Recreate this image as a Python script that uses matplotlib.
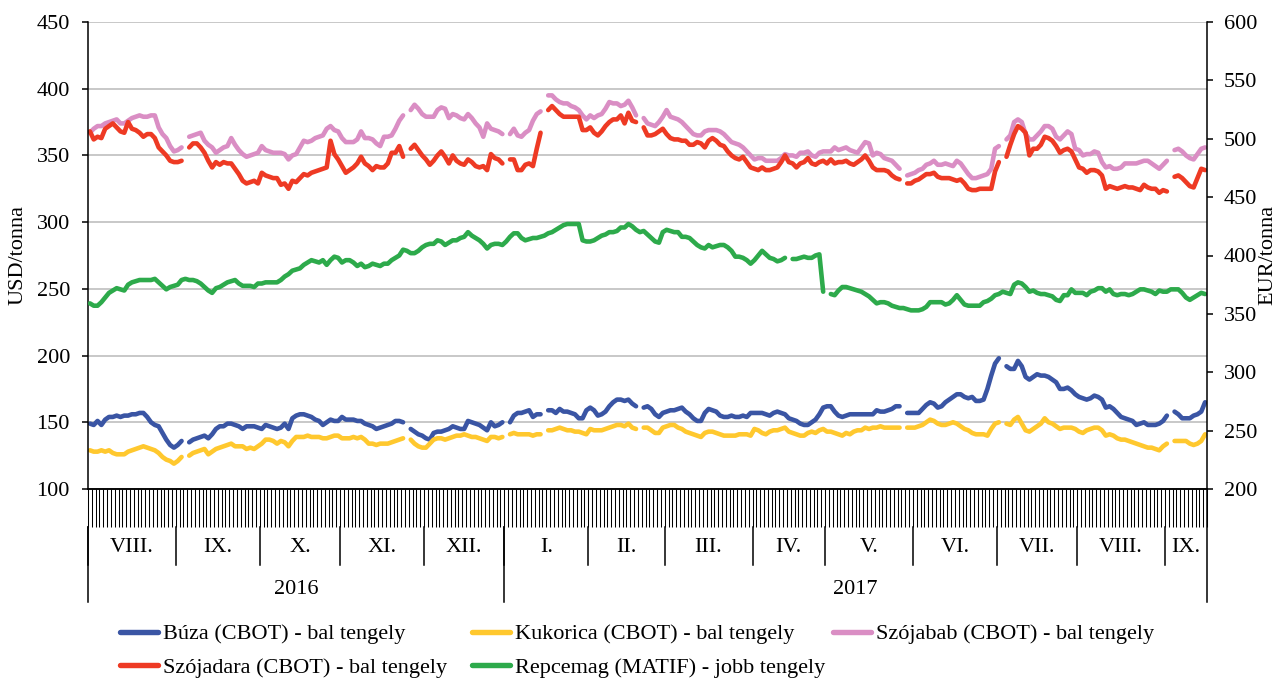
import numpy as np
import pandas as pd
import matplotlib
matplotlib.use("Agg")
import matplotlib.pyplot as plt
from matplotlib.lines import Line2D

plt.rcParams['font.family'] = ['Liberation Serif', 'DejaVu Serif']
plt.rcParams['font.size'] = 16

# ---------------- data ----------------
# trading days on the category axis (days when every market was closed are left out)
trading_days = pd.bdate_range("2016-08-01", "2017-09-15").drop(
    pd.to_datetime(["2016-12-26", "2017-04-14"]))

month_names = ["I.", "II.", "III.", "IV.", "V.", "VI.", "VII.", "VIII.",
               "IX.", "X.", "XI.", "XII."]

# USD/tonna (left axis); None = no quotation
buza = [
    149, 148, 151, 148, 152, 154, 154, 155, 154, 155, 155, 156, 156, 157, 157, 154, 150, 148, 147, 142, 137, 133, 131,
    133, 136, None, 135, 137, 138, 139, 140, 138, 141, 145, 147, 147, 149, 149, 148, 147, 145, 147, 147, 147, 146,
    145, 148, 147, 146, 145, 146, 149, 145, 153, 155, 156, 156, 155, 154, 152, 151, 148, 150, 152, 151, 151,
    154, 152, 152, 152, 151, 151, 149, 148, 147, 145, 146, 147, 148, 149, 151, 151, 150, None, 145, 143, 141, 140,
    138, 137, 142, 143, 143, 144, 145, 147, 146, 145, 145, 151, 150, 149, 148, 146, 144, 150, 147, 148, 150,
    None, 150, 155, 157, 157, 158, 159, 154, 156, 156, None, 159, 159, 157, 160, 158, 158, 157, 156, 153, 153, 159,
    161, 159, 155, 156, 158, 162, 165, 167, 167, 166, 167, 164, 162, None, 161, 162, 160, 156, 154, 157,
    158, 159, 159, 160, 161, 158, 156, 153, 151, 151, 157, 160, 159, 158, 155, 154, 154, 155, 154, 154, 155, 154, 157,
    157, 157, 157, 156, 155, 157, 158, 157, 156, 153, 152, 151, 149, 148, 148, 150, 152, 156, 161,
    162, 162, 158, 155, 154, 155, 156, 156, 156, 156, 156, 156, 156, 159, 158, 158, 159, 160, 162, 162, None, 157, 157,
    157, 157, 160, 163, 165, 164, 161, 162, 165, 167, 169, 171, 171, 169, 168, 169, 166, 166, 167, 175, 185, 194,
    198, None, 192, 190, 190, 196, 192, 184, 182, 184, 186, 185, 185, 184, 182, 180, 175, 175, 176, 174, 171,
    169, 168, 167, 168, 170, 169, 167, 161, 162, 160, 157, 154, 153, 152, 151, 148, 149, 150, 148, 148, 148, 149, 151,
    155, None, 158, 156, 153, 153, 153, 155, 156, 158, 165,
]

kukorica = [
    129, 128, 128, 129, 128, 129, 127, 126, 126, 126, 128, 129, 130, 131, 132, 131, 130, 129, 127, 124, 122, 121, 119,
    121, 124, None, 125, 127, 128, 129, 130, 126, 128, 130, 131, 132, 133, 134, 132, 132, 132, 130, 131, 130, 132,
    134, 137, 137, 136, 134, 136, 135, 132, 136, 139, 139, 139, 140, 139, 139, 139, 138, 138, 139, 140, 140,
    138, 138, 138, 139, 138, 139, 137, 134, 134, 133, 134, 134, 134, 135, 136, 137, 138, None, 137, 134, 132, 131,
    131, 134, 137, 138, 138, 137, 138, 139, 140, 140, 141, 140, 139, 139, 138, 137, 136, 139, 139, 138, 139,
    None, 141, 142, 141, 141, 141, 141, 140, 141, 141, None, 144, 144, 145, 146, 145, 144, 144, 143, 143, 142, 141,
    145, 144, 144, 144, 145, 146, 147, 148, 148, 147, 149, 146, 145, None, 146, 146, 144, 142, 142, 146,
    147, 148, 148, 146, 145, 143, 142, 141, 140, 139, 142, 143, 143, 142, 141, 140, 140, 140, 140, 141, 141, 141, 140,
    145, 144, 142, 141, 143, 144, 144, 145, 146, 143, 142, 141, 140, 140, 142, 143, 142, 144, 145,
    143, 143, 142, 141, 140, 142, 141, 143, 144, 144, 146, 145, 146, 146, 147, 146, 146, 146, 146, 146, None, 146, 146,
    146, 147, 148, 150, 152, 151, 149, 148, 148, 149, 150, 149, 147, 145, 144, 142, 141, 141, 141, 140, 145, 149,
    150, None, 149, 148, 152, 154, 149, 144, 143, 145, 147, 149, 153, 150, 149, 147, 145, 146, 146, 146, 145,
    143, 142, 144, 145, 146, 146, 144, 140, 141, 140, 138, 137, 137, 136, 135, 134, 133, 132, 131, 131, 130, 129, 132,
    134, None, 136, 136, 136, 136, 134, 133, 134, 136, 141,
]

szojabab = [
    367, 370, 372, 372, 374, 375, 376, 377, 374, 374, 376, 378, 379, 380, 379, 379, 380, 380, 371, 366, 363, 357, 353,
    354, 356, None, 364, 365, 366, 367, 361, 358, 356, 352, 354, 356, 357, 363, 358, 354, 351, 349, 350, 351, 352,
    357, 354, 353, 352, 352, 352, 351, 347, 350, 351, 356, 361, 360, 361, 363, 364, 365, 370, 372, 369, 368,
    363, 360, 360, 360, 362, 368, 363, 363, 362, 359, 357, 364, 364, 365, 370, 376, 380, None, 384, 388, 385, 381,
    379, 379, 379, 384, 386, 385, 378, 381, 380, 378, 377, 381, 378, 374, 371, 364, 374, 370, 369, 368, 366,
    None, 366, 370, 365, 364, 367, 369, 376, 381, 383, None, 395, 395, 392, 390, 389, 389, 387, 386, 384, 380, 377,
    380, 378, 380, 381, 385, 390, 389, 389, 387, 388, 391, 386, 380, None, 378, 374, 373, 372, 375, 379,
    384, 379, 378, 377, 375, 372, 369, 366, 365, 365, 368, 369, 369, 369, 368, 366, 363, 360, 359, 358, 356, 353, 350,
    347, 348, 348, 346, 346, 346, 346, 348, 351, 350, 350, 349, 352, 352, 353, 350, 349, 352, 353,
    353, 353, 356, 354, 355, 356, 354, 353, 352, 356, 360, 359, 350, 352, 351, 348, 347, 346, 343, 340, None, 335, 336,
    337, 339, 340, 343, 344, 346, 343, 343, 344, 343, 342, 346, 344, 340, 336, 333, 333, 334, 335, 336, 340, 355,
    357, None, 362, 365, 375, 377, 375, 366, 362, 362, 365, 368, 372, 372, 370, 364, 362, 365, 368, 366, 355,
    354, 350, 351, 351, 353, 352, 345, 341, 342, 340, 340, 341, 344, 344, 344, 344, 345, 346, 346, 344, 342, 340, 343,
    346, None, 354, 355, 353, 350, 348, 347, 351, 355, 356,
]

szojadara = [
    368, 362, 364, 363, 370, 372, 374, 371, 368, 367, 375, 370, 369, 367, 364, 366, 366, 363, 356, 353, 350, 346, 345,
    345, 346, None, 356, 359, 359, 356, 352, 346, 341, 345, 343, 345, 344, 344, 340, 336, 331, 329, 330, 331, 329,
    337, 335, 334, 333, 333, 328, 329, 325, 331, 330, 333, 336, 335, 337, 338, 339, 340, 341, 361, 351, 347,
    342, 337, 339, 341, 344, 349, 344, 342, 339, 342, 341, 341, 344, 352, 352, 357, 349, None, 355, 358, 354, 350,
    347, 343, 346, 350, 353, 349, 344, 350, 346, 344, 343, 347, 345, 342, 341, 342, 339, 351, 348, 347, 344,
    None, 347, 347, 339, 339, 343, 344, 342, 355, 367, None, 384, 387, 384, 381, 379, 379, 379, 379, 379, 369, 369,
    371, 367, 365, 368, 372, 375, 377, 377, 380, 374, 382, 376, 375, None, 371, 365, 365, 366, 368, 370,
    366, 363, 362, 362, 361, 361, 358, 358, 360, 359, 356, 361, 363, 361, 358, 357, 353, 350, 348, 347, 349, 345, 341,
    340, 339, 341, 339, 339, 340, 341, 345, 350, 345, 344, 341, 344, 345, 348, 344, 343, 345, 346,
    344, 347, 344, 345, 345, 346, 344, 343, 345, 347, 350, 346, 341, 339, 339, 339, 338, 335, 333, 332, None, 329, 329,
    331, 332, 334, 336, 336, 337, 334, 333, 333, 333, 332, 331, 332, 329, 325, 324, 324, 325, 325, 325, 325, 338,
    345, None, 349, 358, 366, 372, 370, 367, 350, 355, 355, 358, 364, 363, 361, 357, 352, 354, 355, 353, 347,
    341, 340, 337, 339, 339, 338, 335, 325, 327, 326, 325, 326, 327, 326, 326, 325, 324, 328, 326, 325, 325, 322, 324,
    323, None, 334, 335, 333, 330, 327, 326, 333, 340, 339,
]

# EUR/tonna (right axis)
repcemag = [
    359, 357, 357, 360, 364, 368, 370, 372, 371, 370, 375, 377, 378, 379, 379, 379, 379, 380, 377, 374, 371, 373, 374,
    375, 379, 380, 379, 379, 378, 376, 373, 370, 368, 372, 373, 375, 377, 378, 379, 376, 374, 374, 374, 373, 376,
    376, 377, 377, 377, 377, 379, 382, 384, 387, 388, 389, 392, 394, 396, 395, 394, 396, 392, 396, 399, 398,
    394, 396, 396, 394, 391, 393, 390, 391, 393, 392, 391, 393, 393, 396, 398, 400, 405, 404, 402, 402, 404, 407,
    409, 410, 410, 413, 412, 409, 411, 413, 413, 415, 416, 420, 417, 415, 413, 410, 406, 409, 410, 410, 409,
    412, 416, 419, 419, 415, 413, 414, 415, 415, 416, 417, 419, 420, 422, 424, 426, 427, 427, 427, 427, 413, 412,
    412, 413, 415, 417, 418, 420, 420, 421, 424, 424, 427, 425, 422, 420, 421, 418, 415, 412, 411, 420,
    422, 421, 420, 420, 416, 416, 415, 412, 409, 407, 406, 409, 407, 408, 409, 409, 407, 404, 399, 399, 398, 396, 393,
    396, 400, 404, 401, 398, 397, 395, 396, 398, None, 397, 397, 398, 399, 398, 398, 400, 401, 369,
    None, 367, 366, 370, 373, 373, 372, 371, 370, 369, 367, 365, 362, 359, 360, 360, 359, 357, 356, 355, 355, 354, 353,
    353, 353, 354, 356, 360, 360, 360, 360, 358, 359, 362, 366, 362, 358, 357, 357, 357, 357, 360, 361, 363, 366,
    367, 369, 368, 367, 375, 377, 376, 373, 369, 370, 368, 367, 367, 366, 365, 362, 361, 366, 366, 371, 368,
    368, 368, 366, 369, 370, 372, 372, 369, 371, 367, 366, 367, 367, 366, 367, 369, 371, 371, 370, 369, 367, 370, 369,
    369, 371, 371, 371, 368, 364, 362, 364, 366, 368, 367,
]

labels = ["Búza (CBOT) - bal tengely", "Kukorica (CBOT) - bal tengely",
          "Szójabab (CBOT) - bal tengely", "Szójadara (CBOT) - bal tengely",
          "Repcemag (MATIF) - jobb tengely"]
colors = ["#3A55A4", "#FFC82E", "#DA8EC4", "#EE3A24", "#2DAA4B"]

N = len(trading_days)
for s in (buza, kukorica, szojabab, szojadara, repcemag):
    assert len(s) == N, len(s)

# ---------------- figure ----------------
W, H = 1285, 681
fig = plt.figure(figsize=(W / 100, H / 100), dpi=100)
L, R, T, B = 88, 1207, 22, 489
ax = fig.add_axes([L / W, 1 - B / H, (R - L) / W, (B - T) / H])
ax2 = ax.twinx()

x = np.arange(N)
lw = 3.3
line_kw = dict(lw=lw, solid_capstyle='round', solid_joinstyle='round')
handles = []
for s, c in zip((buza, kukorica, szojabab, szojadara), colors[:4]):
    h, = ax.plot(x, np.array(s, dtype=float), color=c, **line_kw)
    handles.append(h)
h, = ax2.plot(x, np.array(repcemag, dtype=float), color=colors[4], **line_kw)
handles.append(h)

ax.set_xlim(-0.5, N - 0.5)
ax.set_ylim(100, 450)
ax.set_yticks(np.arange(100, 451, 50))
ax2.set_ylim(200, 600)
ax2.set_yticks(np.arange(200, 601, 50))

ax.grid(axis='y', color='#C4C4C4', lw=1.3)
ax.set_axisbelow(True)

for a in (ax, ax2):
    a.spines['top'].set_visible(False)
    for sp in a.spines.values():
        sp.set_linewidth(1.1)
ax.spines['right'].set_visible(False)
ax2.spines['left'].set_visible(False)

ax.tick_params(axis='y', direction='out', length=4, width=1.1, pad=9, labelsize=16)
ax2.tick_params(axis='y', direction='out', length=4, width=1.1, pad=8, labelsize=16)

# one tick per trading day (category boundaries)
ax.set_xticks(np.arange(N + 1) - 0.5)
ax.set_xticklabels([])
ax.tick_params(axis='x', direction='out', length=27.4, width=0.75)

# month and year separators / labels
tr = ax.get_xaxis_transform()
y_tick_end = -(527 - B) / (B - T)
y_month_end = -(565 - B) / (B - T)
y_year_end = -(602 - B) / (B - T)
y_month_lab = -(548 - B) / (B - T)
y_year_lab = -(589 - B) / (B - T)

ym = pd.Series(np.arange(N), index=trading_days)
months = ym.groupby([trading_days.year, trading_days.month])
for (yr, mo), idx in months:
    start, end = idx.iloc[0] - 0.5, idx.iloc[-1] + 0.5
    ax.plot([start, start], [y_tick_end, y_month_end], transform=tr, color='black',
            lw=1.1, clip_on=False)
    ax.text((start + end) / 2, y_month_lab, month_names[mo - 1], transform=tr,
            ha='center', va='center', fontsize=16)
years = ym.groupby(trading_days.year)
for yr, idx in years:
    start, end = idx.iloc[0] - 0.5, idx.iloc[-1] + 0.5
    ax.plot([start, start], [y_tick_end, y_year_end], transform=tr, color='black',
            lw=1.1, clip_on=False)
    ax.text((start + end) / 2, y_year_lab, str(yr), transform=tr,
            ha='center', va='center', fontsize=16)
ax.plot([N - 0.5, N - 0.5], [0, y_year_end], transform=tr, color='black',
        lw=1.1, clip_on=False)

# axis titles
fig.text(18 / W, 1 - 255 / H, "USD/tonna", rotation=90, ha='center', va='center', fontsize=16)
fig.text(1268 / W, 1 - 255 / H, "EUR/tonna", rotation=90, ha='center', va='center', fontsize=16)

# legend entries (Excel-like layout, two rows)
leg_pos = [(120, 634), (472, 634), (833, 634), (120, 668), (472, 668)]
for hnd, lab, (lx, ly) in zip(handles, labels, leg_pos):
    proxy = Line2D([], [], color=hnd.get_color(), lw=lw + 0.6, solid_capstyle='round')
    fig.legend(handles=[proxy], labels=[lab], loc='center left',
               bbox_to_anchor=(lx / W, 1 - ly / H), frameon=False,
               borderpad=0, borderaxespad=0, handlelength=1.7, handletextpad=0.25,
               fontsize=16)

fig.savefig("out.png", dpi=100)
